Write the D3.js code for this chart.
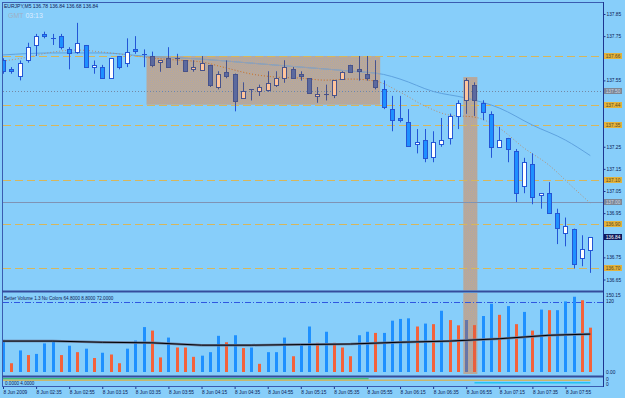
<!DOCTYPE html>
<html>
<head>
<meta charset="utf-8">
<script src="https://cdn.jsdelivr.net/npm/d3@7"></script>
<style>
body { margin: 0; background: #87cefa; }
svg { display: block; font-family: "Liberation Sans", Arial, sans-serif; }
.ax text { fill: #0c1a55; font-size: 4.8px; }
.ax line, .ax path { stroke: #1d3590; }
</style>
</head>
<body>
<svg id="chart" width="625" height="398"></svg>
<script>
// EURJPY M5 bars, 8 Jun 2009 02:15 .. 08:10
var opens = [137.64,137.60,137.57,137.64,137.71,137.76,137.74,137.75,137.69,137.68,
  137.71,137.61,137.61,137.56,137.66,137.63,137.69,137.67,137.66,137.63,
  137.65,137.65,137.64,137.60,137.60,137.62,137.52,137.59,137.58,137.47,
  137.51,137.50,137.51,137.53,137.56,137.60,137.58,137.56,137.48,137.49,
  137.48,137.56,137.62,137.60,137.58,137.55,137.51,137.42,137.38,137.36,
  137.26,137.28,137.20,137.26,137.29,137.39,137.46,137.53,137.45,137.40,
  137.25,137.29,137.23,137.07,137.17,137.03,137.04,136.95,136.86,136.88,
  136.75,136.78];
var highs = [137.65,137.61,137.64,137.72,137.76,137.77,137.76,137.76,137.70,137.81,
  137.71,137.64,137.62,137.65,137.66,137.74,137.75,137.69,137.68,137.64,
  137.70,137.67,137.64,137.64,137.66,137.62,137.59,137.64,137.58,137.54,
  137.51,137.53,137.59,137.59,137.64,137.61,137.59,137.56,137.52,137.53,
  137.55,137.59,137.62,137.66,137.66,137.64,137.55,137.48,137.48,137.42,
  137.33,137.33,137.32,137.38,137.40,137.46,137.56,137.54,137.46,137.41,
  137.34,137.29,137.24,137.20,137.22,137.04,137.09,136.97,136.93,136.88,
  136.85,136.84];
var lows = [137.58,137.58,137.55,137.63,137.66,137.74,137.71,137.69,137.60,137.67,
  137.61,137.58,137.56,137.56,137.60,137.61,137.67,137.61,137.61,137.59,
  137.61,137.62,137.59,137.59,137.60,137.52,137.51,137.56,137.41,137.47,
  137.46,137.48,137.50,137.52,137.54,137.56,137.55,137.49,137.45,137.46,
  137.47,137.56,137.59,137.55,137.55,137.51,137.42,137.32,137.36,137.25,
  137.22,137.18,137.18,137.25,137.26,137.33,137.40,137.39,137.37,137.20,
  137.25,137.18,137.00,137.04,136.99,136.97,136.95,136.81,136.80,136.70,
  136.71,136.68];
var closes = [137.59,137.59,137.63,137.70,137.75,137.75,137.74,137.70,137.67,137.72,
  137.61,137.62,137.56,137.65,137.61,137.68,137.68,137.67,137.62,137.64,
  137.61,137.65,137.59,137.61,137.63,137.53,137.58,137.57,137.46,137.50,
  137.51,137.52,137.54,137.56,137.61,137.56,137.57,137.49,137.49,137.49,
  137.55,137.59,137.59,137.59,137.56,137.52,137.43,137.37,137.37,137.25,
  137.27,137.20,137.27,137.28,137.39,137.45,137.55,137.46,137.41,137.25,
  137.28,137.24,137.04,137.18,137.02,137.04,136.95,136.88,136.89,136.72,
  136.79,136.84];

// Better Volume bars
var volumes = [55,15,37,29,31,49,53,29,45,34, 40,24,33,30,15,40,54,77,71,25,
  59,42,42,26,28,34,62,51,63,41, 42,14,34,34,59,27,46,78,50,69,
  50,42,27,63,69,67,67,88,91,92, 78,83,82,105,89,80,89,80,96,117,
  98,113,82,103,71,107,106,106,121,129, 123,76];
var volColors = "brbrbbbrbrbrbrrbbbrrbrrrbbbrbrbrbbbrbbrbrrrbbrbbbbrbrbrrbrbbrbrbrbrbbbrr";
var volAvg = [[0,53],[6,53],[12,51],[18,50],[24,46],[30,46],[36,47],[42,48],[48,51],[54,53],[60,57],[66,63],[71,65]];

// moving averages (bar index, price)
var slowMA = [[0,137.665],[6,137.674],[12,137.674],[17,137.66],[24,137.646],[30,137.628],[36,137.61],
  [42,137.592],[46,137.577],[48,137.556],[52,137.50],[56,137.47],[60,137.425],[64,137.348],[68,137.28],[71,137.21]];
var fastMA = [[0,137.637],[3,137.655],[6,137.678],[9,137.687],[12,137.678],[15,137.665],[18,137.651],
  [21,137.642],[24,137.633],[27,137.606],[30,137.579],[33,137.565],[36,137.56],[39,137.551],[42,137.556],
  [45,137.547],[48,137.497],[51,137.434],[54,137.393],[57,137.384],[60,137.334],[63,137.244],[66,137.167],
  [69,137.063],[71,136.995]];

var levels = [137.66, 137.44, 137.35, 137.10, 136.90, 136.70];
var greyDotted = 137.50, greySolid = 137.00, lastPrice = 136.84;
// ticks hidden under the price tags are left out
var priceTicks = [137.85,137.75,137.55,137.25,137.15,137.05,136.95,136.75,136.65];
var timeTicks = [0,4,8,12,16,20,24,28,32,36,40,44,48,52,56,60,64,68];
var timeLabels = ["8 Jun 2009","8 Jun 02:35","8 Jun 02:55","8 Jun 03:15","8 Jun 03:35","8 Jun 03:55",
  "8 Jun 04:15","8 Jun 04:35","8 Jun 04:55","8 Jun 05:15","8 Jun 05:35","8 Jun 05:55",
  "8 Jun 06:15","8 Jun 06:35","8 Jun 06:55","8 Jun 07:15","8 Jun 07:35","8 Jun 07:55"];
var box = {from: 17.35, to: 45.6, top: 137.66, bottom: 137.44};
var band = {from: 55.65, to: 57.35, top: 137.565};
var subLines = [{from: 0, to: 44.2, c: "#3fbf7f", y: 378.8}, {from: 0, to: 71, c: "#c9b66c", y: 380.3}, {from: 57, to: 71, c: "#22c4f2", y: 382.8}];

var svg = d3.select("#chart");
var x = d3.scaleLinear().domain([0, 71]).range([3, 590.3]);
var y = d3.scaleLinear().domain([136.65, 137.85]).range([279.5, 14]);
var vy = d3.scaleLinear().domain([0, 120]).range([372, 302]);
var px = function(i) { return Math.round(x(i)) + 0.5; };

var defs = svg.append("defs");
var pat = defs.append("pattern").attr("id", "stip").attr("width", 2).attr("height", 2).attr("patternUnits", "userSpaceOnUse");
pat.append("rect").attr("width", 2).attr("height", 2).attr("fill", "#c3ab8a");
pat.append("rect").attr("width", 1).attr("height", 1).attr("fill", "#a8a4b2");
pat.append("rect").attr("x", 1).attr("y", 1).attr("width", 1).attr("height", 1).attr("fill", "#aca6ac");
defs.append("clipPath").attr("id", "mainClip").append("rect").attr("x", 3).attr("y", 3).attr("width", 600).attr("height", 287.5);
defs.append("clipPath").attr("id", "volClip").append("rect").attr("x", 3).attr("y", 293).attr("width", 600).attr("height", 82);
var alt = defs.append("clipPath").attr("id", "altClip");
alt.append("rect").attr("x", x(box.from)).attr("y", y(box.top)).attr("width", x(box.to) - x(box.from)).attr("height", y(box.bottom) - y(box.top));
alt.append("rect").attr("x", x(band.from)).attr("y", y(band.top)).attr("width", x(band.to) - x(band.from)).attr("height", 300);
defs.append("clipPath").attr("id", "bandVol").append("rect").attr("x", x(band.from)).attr("y", 293).attr("width", x(band.to) - x(band.from)).attr("height", 81);

// ---- main window
var main = svg.append("g").attr("clip-path", "url(#mainClip)");
main.append("rect").attr("x", x(box.from)).attr("y", y(box.top)).attr("width", x(box.to) - x(box.from))
  .attr("height", y(box.bottom) - y(box.top)).attr("fill", "url(#stip)");
main.append("rect").attr("x", x(band.from)).attr("y", y(band.top)).attr("width", x(band.to) - x(band.from))
  .attr("height", 300).attr("fill", "url(#stip)");

main.selectAll(".lvl").data(levels).enter().append("line").attr("class", "lvl")
  .attr("x1", 3).attr("x2", 603).attr("y1", function(d) { return Math.round(y(d)) + 0.5; })
  .attr("y2", function(d) { return Math.round(y(d)) + 0.5; })
  .attr("stroke", "#d6b65c").attr("stroke-dasharray", "8,4");
main.append("line").attr("x1", 3).attr("x2", 603).attr("y1", Math.round(y(greyDotted)) + 0.5).attr("y2", Math.round(y(greyDotted)) + 0.5)
  .attr("stroke", "#7488a4").attr("stroke-dasharray", "1,2");
main.append("line").attr("x1", 3).attr("x2", 603).attr("y1", Math.round(y(greySolid)) + 0.5).attr("y2", Math.round(y(greySolid)) + 0.5)
  .attr("stroke", "#7f93b4");

var maLine = d3.line().x(function(d) { return x(d[0]); }).y(function(d) { return y(d[1]); }).curve(d3.curveMonotoneX);

function drawLayer(g, isAlt) {
  g.append("path").attr("d", maLine(slowMA)).attr("fill", "none").attr("stroke", isAlt ? "#9aa0ae" : "#5ea2de").attr("stroke-width", 1);
  g.append("path").attr("d", maLine(fastMA)).attr("fill", "none").attr("stroke", isAlt ? "#c47a3c" : "#b78f70")
    .attr("stroke-width", 1).attr("stroke-dasharray", "1,2");
  var wick = isAlt ? "#48538a" : "#2356d6";
  var c = g.selectAll(".c").data(opens).enter().append("g");
  c.append("line").attr("x1", function(d, i) { return px(i); }).attr("x2", function(d, i) { return px(i); })
    .attr("y1", function(d, i) { return y(highs[i]); }).attr("y2", function(d, i) { return y(lows[i]); })
    .attr("stroke", wick);
  c.append("rect")
    .attr("x", function(d, i) { return Math.round(x(i)) - 2 + 0.5; })
    .attr("y", function(d, i) { return Math.round(y(Math.max(d, closes[i]))) + 0.5; })
    .attr("width", 4)
    .attr("height", function(d, i) { return Math.max(0.01, Math.round(y(Math.min(d, closes[i])) - y(Math.max(d, closes[i])))); })
    .attr("fill", function(d, i) {
      var up = closes[i] >= d;
      if (isAlt) return up ? "#ffc59c" : "#5c6a9e";
      return up ? "#ffffff" : "#1e90ff";
    })
    .attr("stroke", wick);
}
drawLayer(main.append("g"), false);
drawLayer(main.append("g").attr("clip-path", "url(#altClip)"), true);

// title
svg.append("text").attr("x", 4).attr("y", 8).attr("font-size", 5).attr("fill", "#0c1a55")
  .text("EURJPY,M5  136.78 136.84 136.68 136.84");
var gmt = svg.append("text").attr("x", 8).attr("y", 17.5).attr("font-size", 7);
gmt.append("tspan").attr("fill", "#9fb0c4").text("GMT ");
gmt.append("tspan").attr("fill", "#dcecff").text("03:13");

// ---- volume window
var vol = svg.append("g").attr("clip-path", "url(#volClip)");
vol.append("rect").attr("x", x(band.from)).attr("y", 293).attr("width", x(band.to) - x(band.from)).attr("height", 81).attr("fill", "url(#stip)");
vol.append("line").attr("x1", 3).attr("x2", 603).attr("y1", Math.round(vy(120)) + 0.5).attr("y2", Math.round(vy(120)) + 0.5)
  .attr("stroke", "#2f57e0").attr("stroke-dasharray", "6,2,1,2");
function drawVol(g, isAlt) {
  g.selectAll(".v").data(volumes).enter().append("rect")
    .attr("x", function(d, i) { return Math.round(x(i)) - 1; })
    .attr("y", function(d) { return vy(d); })
    .attr("width", 3)
    .attr("height", function(d) { return vy(0) - vy(d); })
    .attr("fill", function(d, i) {
      if (volColors[i] === "r") return isAlt ? "#e8603e" : "#f4623a";
      return isAlt ? "#6876a6" : "#1e90ff";
    });
}
drawVol(vol.append("g"), false);
drawVol(vol.append("g").attr("clip-path", "url(#bandVol)"), true);
var vLine = d3.line().x(function(d) { return x(d[0]); }).y(function(d) { return vy(d[1]); });
vol.append("path").attr("d", vLine(volAvg)).attr("fill", "none").attr("stroke", "#6d7a98").attr("stroke-width", 2.5);
vol.append("path").attr("d", vLine(volAvg)).attr("fill", "none").attr("stroke", "#000").attr("stroke-width", 1);
svg.append("text").attr("x", 4).attr("y", 299.5).attr("font-size", 4.6).attr("fill", "#0c1a55")
  .text("Better Volume 1.3 Nu Colors 64.8000 8.8000 72.0000");

// ---- small indicator window
subLines.forEach(function(s) {
  svg.append("line").attr("x1", x(s.from)).attr("x2", x(s.to)).attr("y1", s.y).attr("y2", s.y)
    .attr("stroke", s.c).attr("stroke-width", 1.4);
});
svg.append("text").attr("x", 5).attr("y", 384.6).attr("font-size", 4.6).attr("fill", "#0c1a55").text("0.0000 4.0000");

// ---- frames
svg.append("rect").attr("x", 2.5).attr("y", 2.5).attr("width", 601).attr("height", 384).attr("fill", "none").attr("stroke", "#3a5cb0");
svg.append("line").attr("x1", 2).attr("x2", 604).attr("y1", 291.5).attr("y2", 291.5).attr("stroke", "#344c9c").attr("stroke-width", 2.2);
svg.append("line").attr("x1", 2).attr("x2", 604).attr("y1", 376.5).attr("y2", 376.5).attr("stroke", "#344c9c").attr("stroke-width", 2.2);
svg.append("line").attr("x1", 603.5).attr("x2", 603.5).attr("y1", 2).attr("y2", 387).attr("stroke", "#1d3590");

// ---- price axis
svg.append("g").attr("class", "ax").attr("transform", "translate(603.5,0)")
  .call(d3.axisRight(y).tickValues(priceTicks).tickSize(2).tickPadding(1).tickFormat(d3.format(".2f")))
  .call(function(g) { g.select(".domain").remove(); });

function tag(price, fill, color) {
  var yy = Math.round(y(price));
  svg.append("rect").attr("x", 604).attr("y", yy - 3).attr("width", 18).attr("height", 6).attr("fill", fill);
  svg.append("text").attr("x", 613).attr("y", yy + 1.7).attr("text-anchor", "middle").attr("font-size", 4.8)
    .attr("fill", color).text(d3.format(".2f")(price));
}
levels.forEach(function(l) { tag(l, "#e3b23c", "#5a4a20"); });
tag(greyDotted, "#7d8795", "#d0d8e4");
tag(greySolid, "#7d8795", "#d0d8e4");
tag(lastPrice, "#0e1a5c", "#ffffff");

// volume axis labels
[["150.15", 296.5], ["120", 303], ["0.00", 373.5], ["0", 381], ["0", 386]].forEach(function(t) {
  svg.append("text").attr("x", 606).attr("y", t[1]).attr("font-size", 4.8).attr("fill", "#0c1a55").text(t[0]);
});

// ---- time axis
var tAxis = svg.append("g").attr("class", "ax").attr("transform", "translate(0,387)")
  .call(d3.axisBottom(x).tickValues(timeTicks).tickSize(2).tickFormat(function(d, i) { return timeLabels[i]; }));
tAxis.select(".domain").remove();
tAxis.selectAll("text").attr("text-anchor", "start").attr("dx", 0).attr("y", 4);
</script>
</body>
</html>
